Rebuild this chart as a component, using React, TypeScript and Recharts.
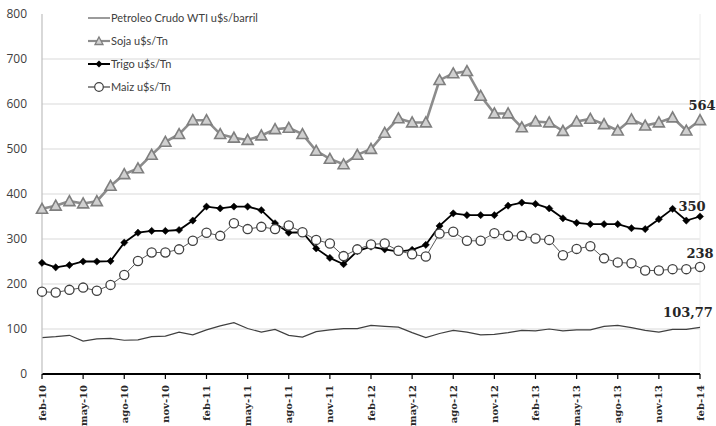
import React from 'react';
import { LineChart, Line, XAxis, YAxis, CartesianGrid, LabelList, ReferenceLine } from 'recharts';

const CATEGORIES = [
  'feb-10','mar-10','abr-10','may-10','jun-10','jul-10','ago-10','sep-10','oct-10','nov-10','dic-10',
  'ene-11','feb-11','mar-11','abr-11','may-11','jun-11','jul-11','ago-11','sep-11','oct-11','nov-11','dic-11',
  'ene-12','feb-12','mar-12','abr-12','may-12','jun-12','jul-12','ago-12','sep-12','oct-12','nov-12','dic-12',
  'ene-13','feb-13','mar-13','abr-13','may-13','jun-13','jul-13','ago-13','sep-13','oct-13','nov-13','dic-13',
  'ene-14','feb-14',
];

const WTI = [
  81, 83, 86, 73, 78, 79, 75, 76, 83, 84, 93, 87, 98, 107, 114, 101, 93, 99, 86, 82, 94, 98, 101, 101, 108,
  106, 104, 92, 81, 90, 97, 93, 87, 88, 92, 97, 96, 100, 96, 98, 98, 106, 108, 103, 97, 93, 99, 99, 103.77,
];

const SOJA = [
  367, 374, 384, 379, 384, 418, 444, 457, 487, 516, 533, 564, 564, 533, 525, 520, 530, 544, 547, 533, 496, 478, 466, 487, 500,
  536, 568, 559, 559, 653, 668, 673, 618, 579, 579, 548, 561, 559, 540, 561, 567, 555, 541, 566, 552, 559, 570, 541, 564,
];

const TRIGO = [
  247, 237, 242, 250, 250, 251, 292, 314, 318, 318, 320, 341, 372, 368, 372, 372, 364, 335, 314, 315, 279, 258, 244, 273, 283,
  277, 272, 276, 287, 329, 357, 353, 353, 353, 374, 381, 378, 368, 346, 336, 333, 333, 333, 324, 322, 344, 367, 341, 350,
];

const MAIZ = [
  183, 181, 187, 192, 185, 198, 220, 251, 270, 270, 277, 296, 314, 307, 335, 322, 327, 322, 330, 315, 298, 290, 262, 277, 288,
  290, 274, 266, 261, 312, 316, 296, 296, 313, 307, 307, 301, 298, 264, 278, 284, 257, 248, 246, 230, 230, 233, 233, 238,
];

const Y_TICKS = [0, 100, 200, 300, 400, 500, 600, 700, 800];
const GRID_VALUES = [100, 200, 300, 400, 500, 600, 700];

const LEGEND_ITEMS = [
  { name: 'Petroleo Crudo WTI u$s/barril', marker: 'none' },
  { name: 'Soja u$s/Tn', marker: 'triangle' },
  { name: 'Trigo u$s/Tn', marker: 'diamond' },
  { name: 'Maiz u$s/Tn', marker: 'circle' },
];

const data = CATEGORIES.map((c, i) => ({
  month: c,
  wti: WTI[i],
  soja: SOJA[i],
  trigo: TRIGO[i],
  maiz: MAIZ[i],
}));

const LAST = CATEGORIES.length - 1;

const SOJA_COLOR = '#8c8c8c';

const TriangleDot = (p: any) => {
  const { cx, cy, index } = p;
  if (cx == null || cy == null) return <g key={`t-${index}`} />;
  const s = 5.5;
  return (
    <path
      key={`t-${index}`}
      d={`M${cx},${cy - s} L${cx + s},${cy + s * 0.8} L${cx - s},${cy + s * 0.8} Z`}
      fill="#d0d0d0"
      stroke="#7f7f7f"
      strokeWidth={1.6}
    />
  );
};

const DiamondDot = (p: any) => {
  const { cx, cy, index } = p;
  if (cx == null || cy == null) return <g key={`d-${index}`} />;
  const s = 3.6;
  return (
    <path
      key={`d-${index}`}
      d={`M${cx},${cy - s} L${cx + s},${cy} L${cx},${cy + s} L${cx - s},${cy} Z`}
      fill="#000"
      stroke="#000"
      strokeWidth={0.5}
    />
  );
};

const CircleDot = (p: any) => {
  const { cx, cy, index } = p;
  if (cx == null || cy == null) return <g key={`c-${index}`} />;
  return <circle key={`c-${index}`} cx={cx} cy={cy} r={4.6} fill="#fff" stroke="#404040" strokeWidth={1.3} />;
};

const makeEndLabel = (dx: number, dy: number) => (props: any) => {
  const { x, y, value, index } = props;
  const isLast = index === LAST || (index === undefined && x > 695);
  if (!isLast) return null;
  const txt = String(value).replace('.', ',');
  return (
    <text
      key={`lbl-${dx}-${dy}`}
      x={x + dx}
      y={y + dy}
      textAnchor="middle"
      fontFamily="'DejaVu Serif', serif"
      fontWeight="bold"
      fontSize={13}
      fill="#262626"
    >
      {txt}
    </text>
  );
};

const XTick = (props: any) => {
  const { x, y, payload } = props;
  return (
    <text
      transform={`translate(${x + 3.5},${y + 4}) rotate(-90)`}
      textAnchor="end"
      fontFamily="'DejaVu Serif', serif"
      fontWeight="bold"
      fontSize={10}
      fill="#262626"
    >
      {payload.value}
    </text>
  );
};

const LegendIcon = ({ marker }: { marker: string }) => (
  <svg width={22} height={12} style={{ display: 'block', flex: 'none' }}>
    <line x1={0} y1={6} x2={22} y2={6} stroke={marker === 'triangle' ? SOJA_COLOR : marker === 'circle' ? '#404040' : marker === 'none' ? '#595959' : '#000'} strokeWidth={marker === 'triangle' ? 2.2 : marker === 'diamond' ? 2 : 1.2} />
    {marker === 'triangle' && <path d="M11,2 L15,9.5 L7,9.5 Z" fill="#d0d0d0" stroke="#7f7f7f" strokeWidth={1.3} />}
    {marker === 'diamond' && <path d="M11,2.5 L14.5,6 L11,9.5 L7.5,6 Z" fill="#000" />}
    {marker === 'circle' && <circle cx={11} cy={6} r={4.3} fill="#fff" stroke="#404040" strokeWidth={1.2} />}
  </svg>
);

export default function App() {
  return (
    <div style={{ position: 'absolute', left: 0, top: 0, width: 716, height: 426, background: '#fff' }}>
      <LineChart width={716} height={426} data={data} margin={{ top: 14, right: 16, bottom: 0, left: 0 }}>
        <CartesianGrid horizontal vertical={false} horizontalValues={GRID_VALUES} stroke="#d9d9d9" strokeWidth={1} />
        <ReferenceLine x={CATEGORIES[LAST]} stroke="#ececec" strokeWidth={1} />
        <XAxis
          dataKey="month"
          interval={2}
          height={52}
          tickSize={5}
          axisLine={{ stroke: '#000', strokeWidth: 2 }}
          tickLine={{ stroke: '#000', strokeWidth: 1.2 }}
          tick={<XTick />}
        />
        <YAxis
          width={42}
          domain={[0, 800]}
          ticks={Y_TICKS}
          interval={0}
          tickSize={0}
          tickMargin={15}
          axisLine={{ stroke: '#bfbfbf', strokeWidth: 1.2 }}
          tickLine={false}
          tick={{ fill: '#404040', fontSize: 12, fontFamily: "'Open Sans', sans-serif" }}
        />
        <Line
          dataKey="wti"
          stroke="#404040"
          strokeWidth={1.2}
          dot={false}
          activeDot={false}
          isAnimationActive={false}
        >
          <LabelList dataKey="wti" content={makeEndLabel(-12, -10)} />
        </Line>
        <Line
          dataKey="soja"
          stroke={SOJA_COLOR}
          strokeWidth={2.6}
          dot={TriangleDot}
          activeDot={false}
          isAnimationActive={false}
        >
          <LabelList dataKey="soja" content={makeEndLabel(2, -10)} />
        </Line>
        <Line
          dataKey="trigo"
          stroke="#000"
          strokeWidth={1.8}
          dot={DiamondDot}
          activeDot={false}
          isAnimationActive={false}
        >
          <LabelList dataKey="trigo" content={makeEndLabel(-8, -6)} />
        </Line>
        <Line
          dataKey="maiz"
          stroke="#595959"
          strokeWidth={1}
          dot={CircleDot}
          activeDot={false}
          isAnimationActive={false}
        >
          <LabelList dataKey="maiz" content={makeEndLabel(0, -9)} />
        </Line>
      </LineChart>
      {LEGEND_ITEMS.map((it, i) => (
        <div
          key={it.name}
          style={{
            position: 'absolute',
            left: 88,
            top: 17.8 + 23.2 * i - 8,
            height: 16,
            display: 'flex',
            alignItems: 'center',
            fontFamily: 'Lato, sans-serif',
            fontSize: 11,
            color: '#404040',
            whiteSpace: 'nowrap',
          }}
        >
          <LegendIcon marker={it.marker} />
          <span style={{ marginLeft: 1, lineHeight: '16px' }}>{it.name}</span>
        </div>
      ))}
    </div>
  );
}
